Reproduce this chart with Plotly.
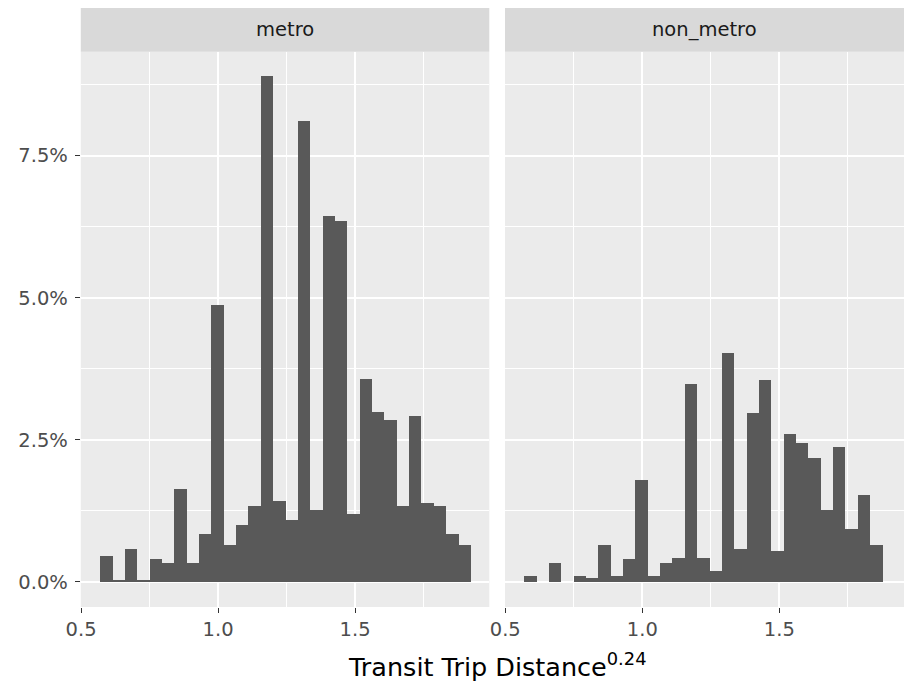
import plotly.graph_objects as go

# Histogram bins (shared by both facets), in units of distance^0.24
bin_start = 0.569
bin_width = 0.0451
n_bins = 30

# Share of all transit trips falling in each bin (percent)
metro_pct = [0.46, 0.04, 0.59, 0.04, 0.40, 0.33, 1.63, 0.33, 0.85, 4.88,
             0.65, 1.01, 1.34, 8.90, 1.43, 1.10, 8.11, 1.27, 6.45, 6.35,
             1.20, 3.58, 3.00, 2.86, 1.34, 2.93, 1.40, 1.34, 0.85, 0.65]
non_metro_pct = [0.10, 0.00, 0.33, 0.00, 0.10, 0.07, 0.65, 0.10, 0.40, 1.79,
                 0.10, 0.33, 0.42, 3.48, 0.42, 0.20, 4.04, 0.59, 2.97, 3.55,
                 0.55, 2.60, 2.44, 2.18, 1.27, 2.38, 0.94, 1.53, 0.65, 0.00]

facets = ["metro", "non_metro"]
x_ticks = [0.5, 1.0, 1.5, 2.0]
y_ticks = [0.0, 2.5, 5.0, 7.5]

centers = [bin_start + bin_width * (i + 0.5) for i in range(n_bins)]

W, H = 904, 684
FONT = "DejaVu Sans"
BAR = "#595959"
PANEL = "#EBEBEB"
STRIP = "#D9D9D9"

# panel geometry in pixels
p1_left, p1_right = 80.8, 489.3
p2_left, p2_right = 505.0, 904.0
p_top, p_bottom = 51.7, 607.0
strip_top = 8.0
px_per_unit = 274.0
x_lo = 0.499

def px(xp):
    return xp / W

def py(yp):
    return 1 - yp / H

fig = go.Figure()
for i, (name, vals) in enumerate(zip(facets, [metro_pct, non_metro_pct])):
    fig.add_trace(go.Bar(
        x=centers, y=vals, width=bin_width,
        marker=dict(color=BAR, line=dict(width=0)),
        xaxis="x" if i == 0 else "x2", yaxis="y" if i == 0 else "y2",
        showlegend=False, name=name,
    ))

xaxis_common = dict(
    tickmode="array", tickvals=x_ticks, ticktext=[f"{v:.1f}" for v in x_ticks],
    showgrid=True, gridcolor="white", gridwidth=1.6,
    minor=dict(tickmode="array", tickvals=[0.75, 1.25, 1.75],
               showgrid=True, gridcolor="white", gridwidth=0.8, ticks=""),
    ticks="outside", ticklen=5, tickwidth=1.1, tickcolor="#333333",
    tickfont=dict(family=FONT, size=19.5, color="#4D4D4D"),
    zeroline=False, showline=False, fixedrange=True, automargin=False,
)
yaxis_common = dict(
    range=[-0.444, 9.33],
    domain=[py(p_bottom), py(p_top)],
    tickmode="array", tickvals=y_ticks,
    showgrid=True, gridcolor="white", gridwidth=1.6,
    minor=dict(tickmode="array", tickvals=[1.25, 3.75, 6.25, 8.75],
               showgrid=True, gridcolor="white", gridwidth=0.8, ticks=""),
    zeroline=False, showline=False, fixedrange=True, automargin=False,
)

fig.update_layout(
    width=W, height=H,
    margin=dict(l=0, r=0, t=0, b=0, autoexpand=False),
    paper_bgcolor="white", plot_bgcolor=PANEL,
    bargap=0, barmode="overlay",
    xaxis=dict(xaxis_common, domain=[px(p1_left), px(p1_right)],
               range=[x_lo, x_lo + (p1_right - p1_left) / px_per_unit], anchor="y"),
    xaxis2=dict(xaxis_common, domain=[px(p2_left), px(p2_right)],
                range=[x_lo, x_lo + (p2_right - p2_left) / px_per_unit], anchor="y2"),
    yaxis=dict(yaxis_common, anchor="x",
               ticktext=[f"{v:.1f}%" for v in y_ticks],
               ticks="outside", ticklen=5, tickwidth=1.1, tickcolor="#333333",
               ticklabelstandoff=3,
               tickfont=dict(family=FONT, size=19.5, color="#4D4D4D")),
    yaxis2=dict(yaxis_common, anchor="x2", showticklabels=False, ticks=""),
)

# facet strips
for name, (l, r) in zip(facets, [(p1_left, p1_right), (p2_left, p2_right)]):
    fig.add_shape(type="rect", xref="paper", yref="paper",
                  x0=px(l), x1=px(r), y0=py(p_top), y1=py(strip_top),
                  fillcolor=STRIP, line=dict(width=0), layer="below")
    fig.add_annotation(text=name, xref="paper", yref="paper",
                       x=px((l + r) / 2), y=py((strip_top + p_top) / 2),
                       xanchor="center", yanchor="middle", showarrow=False,
                       font=dict(family=FONT, size=19.5, color="#1A1A1A"))

# axis title with exponent
fig.add_annotation(text="Transit Trip Distance<sup>0.24</sup>",
                   xref="paper", yref="paper", x=px(497.5), y=py(665),
                   xanchor="center", yanchor="middle", showarrow=False,
                   font=dict(family=FONT, size=25.5, color="black"))

fig.write_html("out.html")
